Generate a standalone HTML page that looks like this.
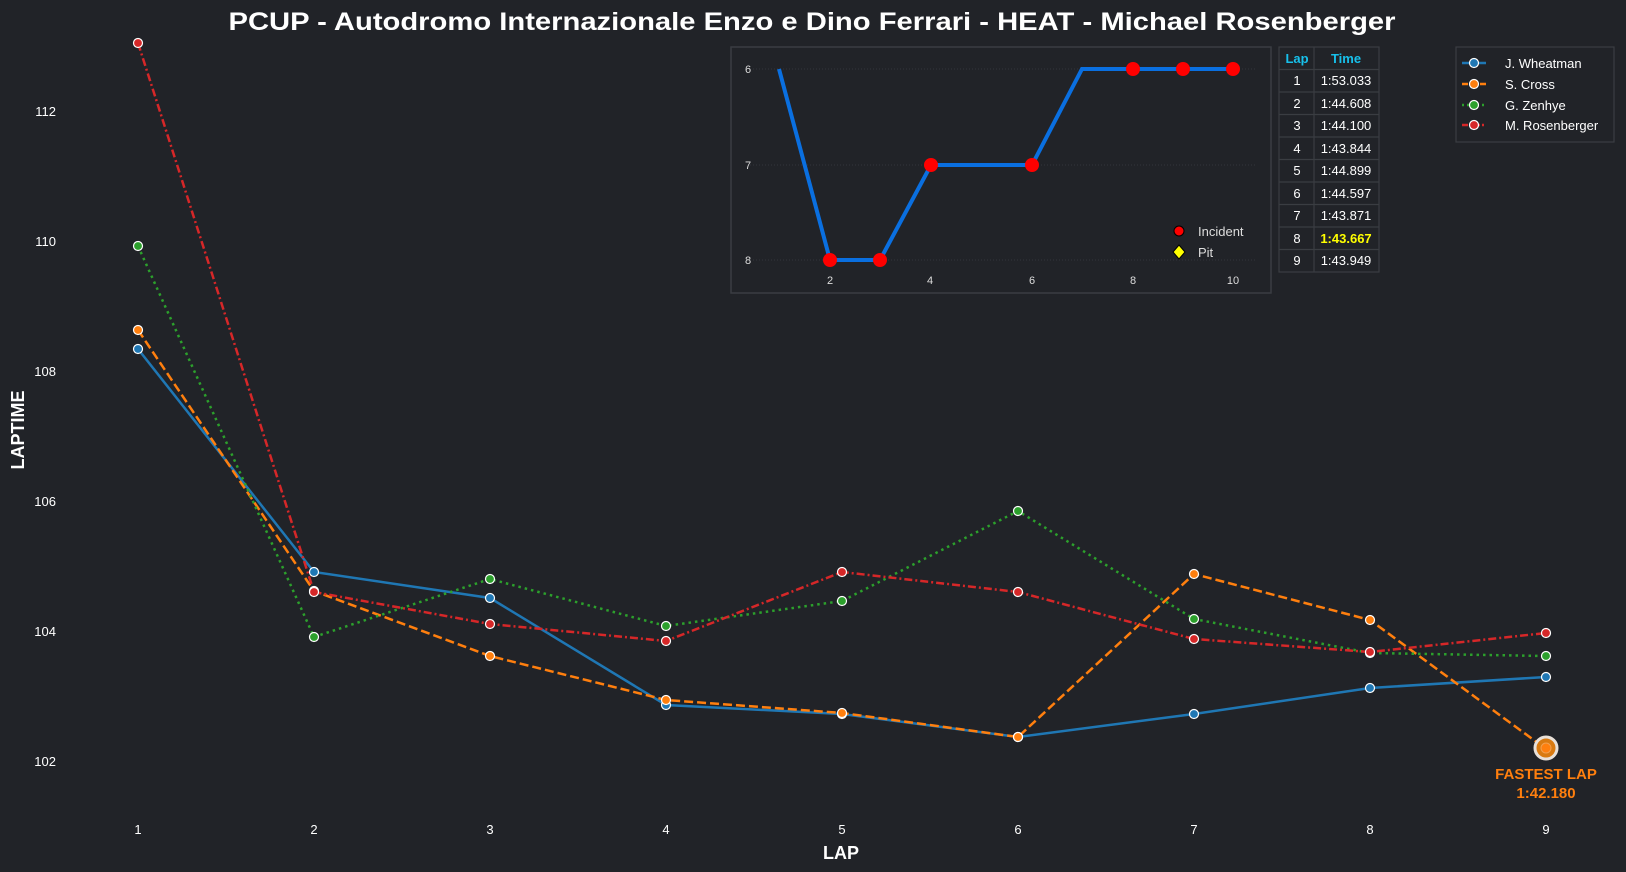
<!DOCTYPE html>
<html><head><meta charset="utf-8"><style>
html,body{margin:0;padding:0;background:#212328;}
svg{display:block;font-family:"Liberation Sans",Arial,sans-serif;}
</style></head><body>
<svg width="1626" height="872" viewBox="0 0 1626 872" xmlns="http://www.w3.org/2000/svg">
<rect width="1626" height="872" fill="#212328"/>
<text x="812" y="30" text-anchor="middle" font-size="25" font-weight="bold" fill="#fff" textLength="1167" lengthAdjust="spacingAndGlyphs">PCUP - Autodromo Internazionale Enzo e Dino Ferrari - HEAT - Michael Rosenberger</text>
<!-- y ticks -->
<g font-size="13" fill="#fff" text-anchor="end">
<text x="56" y="116">112</text><text x="56" y="246">110</text><text x="56" y="376">108</text><text x="56" y="506">106</text><text x="56" y="636">104</text><text x="56" y="766">102</text>
</g>
<g font-size="13" fill="#fff" text-anchor="middle">
<text x="138" y="834">1</text><text x="314" y="834">2</text><text x="490" y="834">3</text><text x="666" y="834">4</text><text x="842" y="834">5</text><text x="1018" y="834">6</text><text x="1194" y="834">7</text><text x="1370" y="834">8</text><text x="1546" y="834">9</text>
</g>
<text x="841" y="859" text-anchor="middle" font-size="18" font-weight="bold" fill="#fff">LAP</text>
<text transform="translate(24,430) rotate(-90)" text-anchor="middle" font-size="18" font-weight="bold" fill="#fff">LAPTIME</text>
<!-- series: x=138+(l-1)*176, y=761-(v-102)*65 -->
<g fill="none" stroke-width="2.5">
<polyline stroke="#1f77b4" points="138,349 314,572 490,598 666,705 842,714 1018,737 1194,714 1370,688 1546,677"/>
<polyline stroke="#ff7f0e" stroke-dasharray="9,4" points="138,330 314,591 490,656 666,700 842,713 1018,737 1194,574 1370,620 1546,749"/>
<polyline stroke="#2ca02c" stroke-dasharray="2.5,4" points="138,246 314,637 490,579 666,626 842,601 1018,511 1194,619 1370,653 1546,656"/>
<polyline stroke="#d62728" stroke-dasharray="8,3,2,3" points="138,43 314,592 490,624 666,641 842,572 1018,592 1194,639 1370,652 1546,633"/>
</g>
<g stroke="#fff" stroke-width="1.2">
<g fill="#1f77b4"><circle cx="138" cy="349" r="4.5"/><circle cx="314" cy="572" r="4.5"/><circle cx="490" cy="598" r="4.5"/><circle cx="666" cy="705" r="4.5"/><circle cx="842" cy="714" r="4.5"/><circle cx="1018" cy="737" r="4.5"/><circle cx="1194" cy="714" r="4.5"/><circle cx="1370" cy="688" r="4.5"/><circle cx="1546" cy="677" r="4.5"/></g>
<g fill="#ff7f0e"><circle cx="138" cy="330" r="4.5"/><circle cx="314" cy="591" r="4.5"/><circle cx="490" cy="656" r="4.5"/><circle cx="666" cy="700" r="4.5"/><circle cx="842" cy="713" r="4.5"/><circle cx="1018" cy="737" r="4.5"/><circle cx="1194" cy="574" r="4.5"/><circle cx="1370" cy="620" r="4.5"/></g>
<g fill="#2ca02c"><circle cx="138" cy="246" r="4.5"/><circle cx="314" cy="637" r="4.5"/><circle cx="490" cy="579" r="4.5"/><circle cx="666" cy="626" r="4.5"/><circle cx="842" cy="601" r="4.5"/><circle cx="1018" cy="511" r="4.5"/><circle cx="1194" cy="619" r="4.5"/><circle cx="1370" cy="653" r="4.5"/><circle cx="1546" cy="656" r="4.5"/></g>
<g fill="#d62728"><circle cx="138" cy="43" r="4.5"/><circle cx="314" cy="592" r="4.5"/><circle cx="490" cy="624" r="4.5"/><circle cx="666" cy="641" r="4.5"/><circle cx="842" cy="572" r="4.5"/><circle cx="1018" cy="592" r="4.5"/><circle cx="1194" cy="639" r="4.5"/><circle cx="1370" cy="652" r="4.5"/><circle cx="1546" cy="633" r="4.5"/></g>
</g>
<circle cx="1546" cy="748" r="11" fill="#d97a10" stroke="#e8e0d8" stroke-width="3"/>
<circle cx="1546" cy="748" r="5" fill="#ff7f0e" stroke="#f0a050" stroke-width="1"/>
<g font-size="15" font-weight="bold" fill="#ff7f0e" text-anchor="middle">
<text x="1546" y="779">FASTEST LAP</text><text x="1546" y="798">1:42.180</text>
</g>
<!-- inset -->
<rect x="731" y="47" width="540" height="246" fill="#212328" stroke="#3a3d42" stroke-width="1.5"/>
<g stroke="#3a3d42" stroke-width="0.8" stroke-dasharray="1,2">
<line x1="750" y1="69" x2="1256" y2="69"/><line x1="750" y1="165" x2="1256" y2="165"/><line x1="750" y1="260" x2="1256" y2="260"/>
</g>
<g font-size="11" fill="#ddd">
<text x="748" y="73" text-anchor="middle">6</text><text x="748" y="169" text-anchor="middle">7</text><text x="748" y="264" text-anchor="middle">8</text>
<g text-anchor="middle"><text x="830" y="284">2</text><text x="930" y="284">4</text><text x="1032" y="284">6</text><text x="1133" y="284">8</text><text x="1233" y="284">10</text></g>
</g>
<polyline fill="none" stroke="#0a6fe0" stroke-width="4" points="779,69 830,260 880,260 931,165 982,165 1032,165 1082,69 1133,69 1183,69 1233,69"/>
<g fill="#ff0000"><circle cx="830" cy="260" r="7"/><circle cx="880" cy="260" r="7"/><circle cx="931" cy="165" r="7"/><circle cx="1032" cy="165" r="7"/><circle cx="1133" cy="69" r="7"/><circle cx="1183" cy="69" r="7"/><circle cx="1233" cy="69" r="7"/></g>
<circle cx="1179" cy="231" r="5" fill="#f00" stroke="#000" stroke-width="1"/>
<polygon points="1179,245 1185,252 1179,259 1173,252" fill="#ffff00" stroke="#000" stroke-width="1"/>
<g font-size="13" fill="#ddd"><text x="1198" y="236">Incident</text><text x="1198" y="257">Pit</text></g>
<!-- table -->
<g stroke="#3a3d42" stroke-width="1.2" fill="none">
<rect x="1279" y="47" width="100" height="225"/>
<line x1="1314" y1="47" x2="1314" y2="272"/>
<line x1="1279" y1="69.5" x2="1379" y2="69.5"/><line x1="1279" y1="92" x2="1379" y2="92"/><line x1="1279" y1="114.5" x2="1379" y2="114.5"/><line x1="1279" y1="137" x2="1379" y2="137"/><line x1="1279" y1="159.5" x2="1379" y2="159.5"/><line x1="1279" y1="182" x2="1379" y2="182"/><line x1="1279" y1="204.5" x2="1379" y2="204.5"/><line x1="1279" y1="227" x2="1379" y2="227"/><line x1="1279" y1="249.5" x2="1379" y2="249.5"/>
</g>
<g font-size="13" fill="#fff" text-anchor="middle">
<text x="1297" y="63" fill="#17c0eb" font-weight="bold">Lap</text><text x="1346" y="63" fill="#17c0eb" font-weight="bold">Time</text>
<text x="1297" y="85">1</text><text x="1346" y="85">1:53.033</text>
<text x="1297" y="108">2</text><text x="1346" y="108">1:44.608</text>
<text x="1297" y="130">3</text><text x="1346" y="130">1:44.100</text>
<text x="1297" y="153">4</text><text x="1346" y="153">1:43.844</text>
<text x="1297" y="175">5</text><text x="1346" y="175">1:44.899</text>
<text x="1297" y="198">6</text><text x="1346" y="198">1:44.597</text>
<text x="1297" y="220">7</text><text x="1346" y="220">1:43.871</text>
<text x="1297" y="243">8</text><text x="1346" y="243" fill="#ffff00" font-weight="bold">1:43.667</text>
<text x="1297" y="265">9</text><text x="1346" y="265">1:43.949</text>
</g>
<!-- legend -->
<rect x="1456" y="47" width="158" height="95" fill="#212328" stroke="#3a3d42" stroke-width="1.2"/>
<g stroke-width="2.5">
<line x1="1462" y1="63" x2="1486" y2="63" stroke="#1f77b4"/>
<line x1="1462" y1="84" x2="1486" y2="84" stroke="#ff7f0e" stroke-dasharray="6,3"/>
<line x1="1462" y1="105" x2="1486" y2="105" stroke="#2ca02c" stroke-dasharray="2,3"/>
<line x1="1462" y1="125" x2="1486" y2="125" stroke="#d62728" stroke-dasharray="6,2,2,2"/>
</g>
<g stroke="#fff" stroke-width="1.2">
<circle cx="1474" cy="63" r="4.5" fill="#1f77b4"/><circle cx="1474" cy="84" r="4.5" fill="#ff7f0e"/><circle cx="1474" cy="105" r="4.5" fill="#2ca02c"/><circle cx="1474" cy="125" r="4.5" fill="#d62728"/>
</g>
<g font-size="13" fill="#fff">
<text x="1505" y="68">J. Wheatman</text><text x="1505" y="89">S. Cross</text><text x="1505" y="110">G. Zenhye</text><text x="1505" y="130">M. Rosenberger</text>
</g>
</svg>
</body></html>
